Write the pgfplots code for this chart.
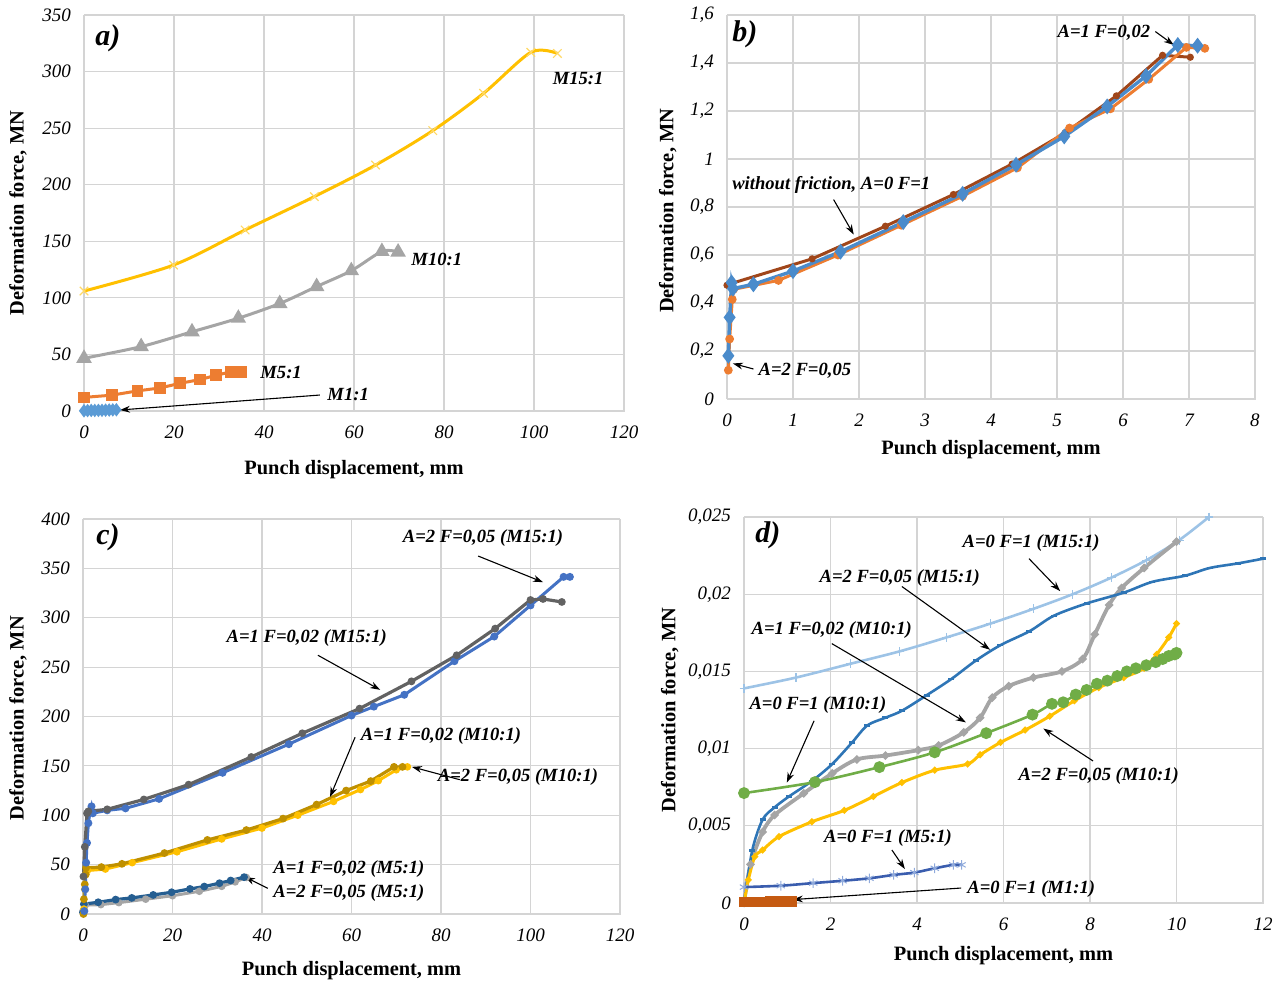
\documentclass[border=0pt]{standalone}
\usepackage{fontspec}
\setmainfont{Liberation Serif}
\usepackage{pgfplots}
\pgfplotsset{compat=1.18}
\usetikzlibrary{arrows.meta}

\definecolor{gridc}{HTML}{D4D4D4}
\definecolor{cyel}{HTML}{FFC000}
\definecolor{cyellt}{HTML}{FFD966}
\definecolor{cgray}{HTML}{A5A5A5}
\definecolor{cdgray}{HTML}{626262}
\definecolor{corange}{HTML}{ED7D31}
\definecolor{cbrown}{HTML}{A0461A}
\definecolor{cblue}{HTML}{5B9BD5}
\definecolor{cblueb}{HTML}{4A8BCB}
\definecolor{croyal}{HTML}{4472C4}
\definecolor{cgold}{HTML}{BF9000}
\definecolor{cnavy}{HTML}{255E91}
\definecolor{cltblue}{HTML}{9DC3E6}
\definecolor{cmblue}{HTML}{2E75B6}
\definecolor{cgreen}{HTML}{70AD47}
\definecolor{cdblue}{HTML}{3A5DAE}
\definecolor{cast}{HTML}{8FAADC}
\definecolor{crust}{HTML}{C55A11}

\pgfplotsset{
  panel/.style={
    scale only axis,
    anchor=south west,
    axis line style={draw=gridc},
    grid=major,
    grid style={draw=gridc, line width=0.6pt},
    major tick length=0pt,
    tick label style={font=\fontsize{9.5}{11}\selectfont\itshape},
    /pgf/number format/assume math mode=true,
    label style={font=\fontsize{10.2}{12}\selectfont\bfseries},
    xticklabel shift=4pt,
    yticklabel shift=3pt,
    clip=false,
  },
}
\tikzset{
  ann/.style={font=\fontsize{9.3}{11}\selectfont\bfseries\itshape, inner sep=0pt},
  panlab/.style={font=\fontsize{15}{17}\selectfont\bfseries\itshape, inner sep=0pt},
  annarr/.style={-{Stealth[length=5pt,width=3.4pt]}, line width=0.55pt, black},
}

\begin{document}
\begin{tikzpicture}
\useasboundingbox (0,0) rectangle (641.5pt,492.5pt);

% ---------------- a) ----------------
\begin{axis}[panel,
  at={(42pt,287pt)}, width=270pt, height=198pt,
  xmin=0, xmax=120, ymin=0, ymax=350,
  xtick={0,20,...,120}, ytick={0,50,...,350},
  xlabel={Punch displacement, mm},
  ylabel={Deformation force, MN},
  xlabel style={at={(axis description cs:0.5,-0.149)}, anchor=center},
  ylabel style={at={(axis description cs:-0.122,0.5)}, anchor=center},
]
\addplot[color=cyel, line width=1.5pt, smooth, mark=x, mark size=3pt,
  mark options={draw=cyellt, line width=0.6pt}] coordinates {
  (0,106) (19.9,129) (35.8,160) (51.2,189.5) (64.8,217.4) (77.5,247.8)
  (88.8,280.8) (99.3,317) (105.2,316)};
\addplot[color=cgray, line width=1.5pt, smooth, mark=triangle*, mark size=3pt] coordinates {
  (0,46.6) (12.7,56.9) (24,70) (34.3,82) (43.5,95) (51.7,110) (59.4,124)
  (66.2,141) (69.8,140.5)};
\addplot[color=corange, line width=1.5pt, mark=square*, mark size=2.2pt] coordinates {
  (0,12) (6.2,14) (11.9,17.8) (16.8,20.3) (21.4,24.5) (25.8,27.8)
  (29.4,31.6) (32.7,34.7) (34.9,34.7)};
\addplot[color=cblue, line width=1.2pt, mark=diamond*, mark size=2.4pt] coordinates {
  (0,0.18) (0.8,0.34) (1.6,0.485) (2.4,0.478) (3.2,0.533) (4,0.614)
  (4.8,0.737) (5.6,0.855) (6.4,0.976) (7.2,1.094)};
\node[panlab] at (axis cs:5.3,329.7) {a)};
\node[ann] at (axis cs:109.8,294.3) {M15:1};
\node[ann] at (axis cs:78.4,134.3) {M10:1};
\node[ann] at (axis cs:43.8,33.6) {M5:1};
\node[ann] at (axis cs:58.7,15) {M1:1};
\draw[annarr] (axis cs:52.4,14.1) -- (axis cs:8,0.9);
\end{axis}

% ---------------- b) ----------------
\begin{axis}[panel,
  at={(363.5pt,293pt)}, width=264pt, height=192pt,
  xmin=0, xmax=8, ymin=0, ymax=1.6,
  xtick={0,1,...,8}, ytick={0,0.2,0.4,0.6,0.8,1,1.2,1.4,1.6},
  yticklabel style={/pgf/number format/.cd, use comma, fixed, precision=1},
  xlabel={Punch displacement, mm},
  ylabel={Deformation force, MN},
  xlabel style={at={(axis description cs:0.5,-0.133)}, anchor=center},
  ylabel style={at={(axis description cs:-0.112,0.49)}, anchor=center},
]
\addplot[color=cbrown, line width=1.5pt, mark=*, mark size=1pt] coordinates {
  (0,0.474) (0.05,0.48) (1.29,0.584) (2.4,0.72) (3.43,0.852) (4.32,0.979)
  (5.12,1.108) (5.9,1.263) (6.6,1.432) (7.02,1.424)};
\addplot[color=corange, line width=1.5pt, mark=*, mark size=1.4pt] coordinates {
  (0.02,0.12) (0.04,0.25) (0.08,0.415) (0.1,0.457) (0.78,0.494) (1.68,0.6)
  (2.64,0.724) (3.57,0.845) (4.4,0.963) (5.19,1.129) (5.81,1.209)
  (6.39,1.332) (6.96,1.465) (7.24,1.461)};
\addplot[color=cblueb, line width=1.7pt, mark=diamond*, mark size=2.6pt] coordinates {
  (0.02,0.18) (0.04,0.34) (0.07,0.485) (0.09,0.46) (0.4,0.478) (1.0,0.533)
  (1.72,0.614) (2.67,0.737) (3.57,0.855) (4.38,0.976) (5.11,1.094)
  (5.76,1.219) (6.35,1.346) (6.83,1.475) (7.13,1.472)};
\node[panlab] at (axis cs:0.27,1.52) {b)};
\node[ann] at (axis cs:5.71,1.525) {A=1 F=0,02};
\draw[annarr] (axis cs:6.49,1.531) -- (axis cs:6.77,1.475);
\node[ann] at (axis cs:1.58,0.893) {without friction, A=0 F=1};
\draw[annarr] (axis cs:1.615,0.831) -- (axis cs:1.92,0.685);
\node[ann] at (axis cs:1.18,0.118) {A=2 F=0,05};
\draw[annarr] (axis cs:0.40,0.125) -- (axis cs:0.09,0.148);
\end{axis}

% ---------------- c) ----------------
\begin{axis}[panel,
  at={(41.5pt,35.5pt)}, width=268.5pt, height=197.5pt,
  xmin=0, xmax=120, ymin=0, ymax=400,
  xtick={0,20,...,120}, ytick={0,50,...,400},
  xlabel={Punch displacement, mm},
  ylabel={Deformation force, MN},
  xlabel style={at={(axis description cs:0.5,-0.142)}, anchor=center},
  ylabel style={at={(axis description cs:-0.121,0.496)}, anchor=center},
]
% M5:1
\addplot[color=cgray, line width=1.5pt, mark=*, mark size=1.1pt] coordinates {
  (0,3) (0.5,9) (4,9.5) (8,11.5) (14,15) (20,18.5) (26,23) (31,28)
  (34,32.5) (36.5,37)};
\addplot[color=cnavy, line width=1.6pt, mark=*, mark size=1.1pt] coordinates {
  (0,1.7) (0.2,10) (3.4,11.9) (7.3,14.6) (10.9,16.3) (15.7,19.3) (19.8,22)
  (23.9,25.4) (27.1,27.8) (30.5,31.2) (33,33.9) (36,37.3)};
% M10:1
\addplot[color=cyel, line width=1.5pt, mark=*, mark size=1.1pt] coordinates {
  (0.2,5) (0.4,25) (0.6,40) (1,44) (5,45.5) (11,52) (21,63) (31,76) (40,87)
  (48,100) (56,114) (62,126) (66,135) (70,146) (72.5,149)};
\addplot[color=cgold, line width=1.6pt, mark=*, mark size=1.1pt] coordinates {
  (0.1,0) (0.2,15) (0.4,30) (0.6,40) (0.7,46.8) (4.1,47.5) (8.7,50.8)
  (18.2,61.7) (27.8,75) (36.5,85) (44.7,96.6) (52.2,110.8) (58.8,125)
  (64.3,134.6) (69.5,149) (71.4,149)};
% M15:1
\addplot[color=croyal, line width=1.5pt, mark=*, mark size=1.2pt] coordinates {
  (0.3,3) (0.5,25) (0.7,52) (0.9,72) (1.2,92) (1.6,104) (1.9,109) (2.2,102)
  (5.4,105) (9.5,107) (17,116.6) (31.2,143) (46,172) (60,201) (65,210)
  (71.8,222) (83,256) (91.9,281) (100,312.5) (107.4,341.4) (108.8,341.4)};
\addplot[color=cdgray, line width=1.6pt, mark=*, mark size=1.1pt] coordinates {
  (0.1,38) (0.4,68) (0.9,102) (1.2,104) (5.4,106) (13.6,116) (23.6,131)
  (37.6,159) (49,183) (61.8,208) (73.4,235.6) (83.5,262) (92.1,289)
  (100,318) (102.8,319) (107,316)};
\node[panlab] at (axis cs:5.6,381) {c)};
\node[ann] at (axis cs:89.4,381) {A=2 F=0,05 (M15:1)};
\draw[annarr] (axis cs:88.3,362.5) -- (axis cs:102.8,336);
\node[ann] at (axis cs:50,279.5) {A=1 F=0,02 (M15:1)};
\draw[annarr] (axis cs:52.5,262) -- (axis cs:66.4,227);
\node[ann] at (axis cs:80,180) {A=1 F=0,02 (M10:1)};
\draw[annarr] (axis cs:60.8,179) -- (axis cs:55.2,118.5);
\node[ann] at (axis cs:97.2,139) {A=2 F=0,05 (M10:1)};
\draw[annarr] (axis cs:84.2,136) -- (axis cs:73.5,149);
\node[ann] at (axis cs:59.4,45.6) {A=1 F=0,02 (M5:1)};
\node[ann] at (axis cs:59.4,21.3) {A=2 F=0,05 (M5:1)};
\draw[annarr] (axis cs:41.3,26) -- (axis cs:36.2,37.5);
\end{axis}

% ---------------- d) ----------------
\begin{axis}[panel,
  at={(372pt,41pt)}, width=259.5pt, height=193pt,
  xmin=0, xmax=12, ymin=0, ymax=0.025,
  scaled y ticks=false,
  xtick={0,2,...,12},
  ytick={0,0.005,0.01,0.015,0.02,0.025},
  yticklabels={0,{0,005},{0,01},{0,015},{0,02},{0,025}},
  xlabel={Punch displacement, mm},
  ylabel={Deformation force, MN},
  xlabel style={at={(axis description cs:0.5,-0.135)}, anchor=center},
  ylabel style={at={(axis description cs:-0.143,0.5)}, anchor=center},
]
% A=0 F=1 (M15:1)
\addplot[color=cltblue, line width=1.3pt, smooth, mark=+, mark size=2.2pt,
  mark options={line width=0.6pt}] coordinates {
  (0,0.0139) (1.2,0.0146) (2.47,0.0155) (3.6,0.0163) (4.68,0.0172)
  (5.7,0.0181) (6.69,0.01905) (7.6,0.0200) (8.49,0.02107) (9.3,0.0222)
  (10.06,0.0235) (10.75,0.0250)};
% A=1 F=0,02 (M10:1)
\addplot[color=cgray, line width=1.9pt, smooth, mark=*, mark size=0.9pt] coordinates {
  (0,0) (0.15,0.0025) (0.43,0.0046) (0.71,0.0057) (1.38,0.0071) (2.04,0.0084)
  (2.61,0.0093) (3.27,0.00955) (4.03,0.0099) (4.5,0.0102) (5.08,0.01105)
  (5.46,0.0120) (5.74,0.0133) (6.12,0.01405) (6.69,0.0146) (7.35,0.0150)
  (7.83,0.0158) (8.11,0.0174) (8.44,0.0193) (8.73,0.0204) (9.25,0.0217)
  (10.0,0.0234)};
% A=2 F=0,05 (M15:1)
\addplot[color=cmblue, line width=1.3pt, smooth, mark=-, mark size=1.5pt] coordinates {
  (0,0) (0.19,0.0034) (0.43,0.0054) (0.71,0.0062) (1.04,0.0069) (1.57,0.0079)
  (2.04,0.0090) (2.5,0.0104) (2.85,0.0115) (3.27,0.0120) (3.65,0.01245)
  (4.22,0.01345) (4.79,0.0145) (5.36,0.0157) (5.93,0.0167) (6.6,0.0176)
  (7.16,0.0186) (7.92,0.0194) (8.78,0.0201) (9.44,0.0208) (10.2,0.0212)
  (10.77,0.0217) (11.43,0.0220) (12,0.0223)};
% A=2 F=0,05 (M10:1)
\addplot[color=cyel, line width=1.5pt, smooth, mark=*, mark size=0.8pt] coordinates {
  (0,0) (0.1,0.0015) (0.25,0.0030) (0.43,0.00343) (0.81,0.0043) (1.57,0.00526)
  (2.32,0.0060) (2.99,0.0069) (3.65,0.0078) (4.41,0.0086) (5.17,0.0090)
  (5.46,0.0096) (5.93,0.0104) (6.5,0.0112) (7.07,0.0121) (7.64,0.0131)
  (8.2,0.01395) (8.78,0.0146) (9.25,0.0152) (9.54,0.0161) (9.82,0.0172)
  (10,0.0181)};
% A=0 F=1 (M10:1)
\addplot[color=cgreen, line width=1.3pt, smooth, mark=*, mark size=2.3pt] coordinates {
  (0,0.00712) (1.64,0.00783) (3.13,0.0088) (4.41,0.00976) (5.6,0.0110)
  (6.67,0.0122) (7.12,0.0129) (7.38,0.0130) (7.67,0.0135) (7.92,0.0138)
  (8.16,0.0142) (8.4,0.0144) (8.63,0.0147) (8.85,0.0150) (9.06,0.0152)
  (9.3,0.0154) (9.52,0.0156) (9.68,0.0158) (9.82,0.0160) (9.96,0.0161)
  (10,0.0162)};
% A=0 F=1 (M5:1)
\addplot[color=cdblue, line width=1.3pt, smooth, mark=asterisk, mark size=2.4pt,
  mark options={draw=cast, line width=0.5pt}] coordinates {
  (0,0.00103) (0.85,0.00112) (1.6,0.00129) (2.28,0.00144) (2.9,0.0016)
  (3.46,0.00182) (3.94,0.00197) (4.41,0.00225) (4.84,0.00247) (5.03,0.00247)};
% A=0 F=1 (M1:1)
\addplot[color=crust, line width=4pt, mark=square*, mark size=2.3pt,
  mark options={line width=0.4pt}] coordinates {
  (0,0.00005) (0.2,0.00005) (0.4,0.00008) (0.6,0.0001) (0.8,0.0001)
  (1.0,0.0001) (1.1,0.0001)};
\node[panlab] at (axis cs:0.55,0.0238) {d)};
\node[ann] at (axis cs:6.64,0.0233) {A=0 F=1 (M15:1)};
\draw[annarr] (axis cs:6.59,0.0223) -- (axis cs:7.31,0.0202);
\node[ann] at (axis cs:3.6,0.02105) {A=2 F=0,05 (M15:1)};
\draw[annarr] (axis cs:3.65,0.0205) -- (axis cs:5.69,0.0164);
\node[ann] at (axis cs:2.03,0.0177) {A=1 F=0,02 (M10:1)};
\draw[annarr] (axis cs:2.03,0.0168) -- (axis cs:5.13,0.0117);
\node[ann] at (axis cs:1.71,0.0128) {A=0 F=1 (M10:1)};
\draw[annarr] (axis cs:1.62,0.0118) -- (axis cs:0.99,0.0078);
\node[ann] at (axis cs:8.2,0.0082) {A=2 F=0,05 (M10:1)};
\draw[annarr] (axis cs:8.07,0.0092) -- (axis cs:6.92,0.0113);
\node[ann] at (axis cs:3.33,0.0042) {A=0 F=1 (M5:1)};
\draw[annarr] (axis cs:3.42,0.00343) -- (axis cs:3.72,0.0022);
\node[ann] at (axis cs:6.64,0.0009) {A=0 F=1 (M1:1)};
\draw[annarr] (axis cs:5.02,0.00097) -- (axis cs:1.13,0.00022);
\end{axis}
\end{tikzpicture}
\end{document}
